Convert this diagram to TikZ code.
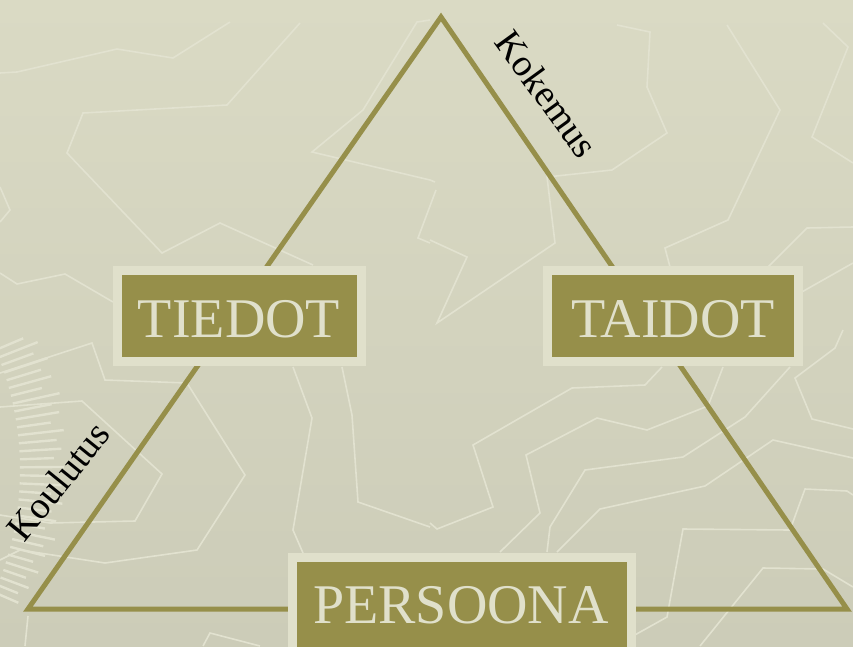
\documentclass[tikz,border=0pt]{standalone}
\usepackage{fontspec}
\setmainfont{Liberation Serif}
\definecolor{bgtop}{RGB}{218,218,196}
\definecolor{bgbot}{RGB}{204,204,184}
\definecolor{maze}{RGB}{226,226,208}
\definecolor{olive}{RGB}{150,143,74}
\definecolor{pale}{RGB}{224,224,203}
\tikzset{
  mazeline/.style={draw=maze,line width=1.6pt,line join=miter},
  tri/.style={draw=olive,line width=5pt,line join=miter},
  wordbox/.style={draw=pale,fill=olive,line width=9pt,inner sep=0pt,minimum height=91pt},
  boxtext/.style={text=pale,inner sep=0pt,anchor=base,font=\fontsize{56}{60}\selectfont},
  sidetext/.style={text=black,inner sep=0pt,font=\fontsize{38}{42}\selectfont}
}
\begin{document}
\begin{tikzpicture}[x=1pt,y=-1pt]
\useasboundingbox (0,0) rectangle (853,646);
\clip (0,0) rectangle (853,646);
\shade[top color=bgtop,bottom color=bgbot] (0,0) rectangle (853,646);
% background maze lines
\draw[mazeline] (0,73) -- (17,72) -- (117,49) -- (173,58) -- (230,22);
\draw[mazeline] (300,23) -- (227,105) -- (83,113) -- (67,153) -- (162,253) -- (220,223) -- (313,265);
\draw[mazeline] (0,273) -- (17,284) -- (65,274) -- (113,302);
\draw[mazeline] (0,187) -- (10,210) -- (0,222);
\draw[mazeline] (430,20) -- (417,22) -- (363,110) -- (312,152) -- (430,180) -- (435,182);
\draw[mazeline] (436,190) -- (418,238) -- (430,243);
\draw[mazeline] (430,240) -- (467,257) -- (437,323) -- (555,243) -- (547,177) -- (612,170) -- (667,133) -- (647,87) -- (650,32) -- (617,25);
\draw[mazeline] (727,25) -- (780,110) -- (728,220) -- (665,248) -- (670,267);
\draw[mazeline] (823,23) -- (848,47) -- (812,137) -- (853,163);
\draw[mazeline] (768,267) -- (807,228) -- (853,227);
\draw[mazeline] (800,293) -- (853,263);
\draw[mazeline] (0,373) -- (92,343) -- (105,380) -- (187,383) -- (245,475) -- (197,550) -- (105,563) -- (20,550) -- (0,560);
\draw[mazeline] (0,407) -- (82,401) -- (162,474) -- (135,521) -- (50,523) -- (0,515);
\draw[mazeline] (293,367) -- (312,418) -- (293,530) -- (303,553);
\draw[mazeline] (342,367) -- (352,415) -- (358,502) -- (430,527);
\draw[mazeline] (25,646) -- (28,616);
\draw[mazeline] (203,646) -- (210,633) -- (260,646);
\draw[mazeline] (430,523) -- (437,529) -- (493,507) -- (473,445) -- (572,388) -- (645,385) -- (662,367);
\draw[mazeline] (500,552) -- (540,513) -- (526,455) -- (597,418) -- (647,430) -- (708,406) -- (723,367);
\draw[mazeline] (547,552) -- (550,527) -- (585,470) -- (683,457) -- (745,417) -- (790,367);
\draw[mazeline] (557,552) -- (600,509) -- (705,486) -- (773,440) -- (853,458);
\draw[mazeline] (843,330) -- (835,348) -- (795,378) -- (812,419) -- (853,429);
\draw[mazeline] (633,636) -- (667,617) -- (683,529) -- (790,530) -- (805,489) -- (847,491) -- (853,495);
\draw[mazeline] (700,646) -- (763,568) -- (823,569) -- (853,587);
% sunburst ticks on the left
\foreach \a/\l in {-23/30,-21.5/42,-20/34,-18.5/46,-17/36,-15.5/44,-14/32,-12.5/48,-11/38,-9.5/44,-8/34,-6.5/46,-5/38,-3.5/42,-2/34,-0.5/44,1/36,2.5/42,4/32,5.5/44,7/34,8.5/40,10/30,11.5/42,13/32,14.5/36,16/26,17.5/34,19/24,20.5/30,22/22,23.5/26}
  \draw[draw=maze,line width=2.4pt] (-287,470) ++(\a:307) -- ++(\a:\l);
% triangle
\coordinate (top) at (441,17);
\coordinate (bl) at (28,609);
\coordinate (br) at (847,609);
\draw[tri] (top) -- (bl) -- (br) -- cycle;
% boxes
\node[wordbox,minimum width=244pt] (tiedotbox) at (239.5,316) {};
\node[boxtext] (tiedot) at (239,337) {TIEDOT};
\node[wordbox,minimum width=251pt] (taidotbox) at (673,316) {};
\node[boxtext] (taidot) at (673,337) {TAIDOT};
\node[wordbox,minimum width=339pt,minimum height=200pt] (persoonabox) at (461.5,657.5) {};
\node[boxtext] (persoona) at (461,623) {PERSOONA};
% side labels
\node[sidetext,rotate=-54] (kokemus) at (547,94) {Kokemus};
\node[sidetext,rotate=51] (koulutus) at (58,481) {Koulutus};
\end{tikzpicture}
\end{document}
